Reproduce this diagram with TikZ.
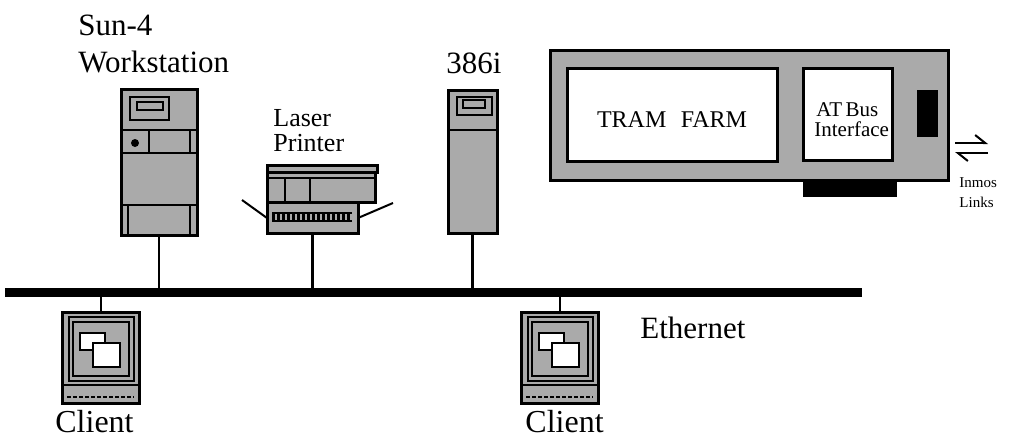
\documentclass[tikz,border=0pt]{standalone}
\usepackage{fontspec}
\setmainfont{Liberation Serif}
\usetikzlibrary{arrows.meta}
\definecolor{dither}{RGB}{170,170,170}

\tikzset{
  unit/.style={draw, line width=1.5pt, fill=dither, inner sep=0pt},
  panel/.style={draw, line width=1pt},
  drop/.style={line width=1.4pt},
  link/.style={line width=1pt, -{Straight Barb[harpoon, length=5pt, width=8pt]}},
  label/.style={inner sep=0pt, anchor=base west, font=\fontsize{15.5}{18}\selectfont},
}

\begin{document}
\begin{tikzpicture}[x=0.5pt, y=-0.5pt]
  \useasboundingbox (0,0) rectangle (1016,440);

  % ethernet backbone
  \node[fill=black, inner sep=0pt, minimum width=428.5pt, minimum height=4.5pt] (bus) at (433.5,292.5) {};
  \node[label] (ethlabel) at (640,338) {Ethernet};

  % Sun-4 workstation
  \node[label] (sunlabel) at (78,35) {Sun-4};
  \node[label] (wslabel) at (78,72) {Workstation};
  \node[unit, minimum width=38pt, minimum height=73pt] (sun) at (159,162) {};
  \draw[panel] (130,97) rectangle (169,120) (137,102) rectangle (163,110);
  \draw[panel] (121,130) -- (197,130) (149,130) -- (149,153) (190,130) -- (190,153)
    (121,153) -- (197,153) (121,205) -- (197,205) (128,205) -- (128,235) (190,205) -- (190,235);
  \fill (135,143) circle (2pt);
  \draw[drop] (sun.south) -- (sun.south |- bus.north);

  % laser printer
  \node[label, font=\fontsize{13}{15}\selectfont] (laserlabel) at (273,126) {Laser};
  \node[label, font=\fontsize{13}{15}\selectfont] (printerlabel) at (273,151) {Printer};
  \draw[panel] (242,200) -- (267,218) (358,218) -- (393,203);
  \draw[unit] (267,172) rectangle (375,202);
  \draw[unit] (267,165) rectangle (377,172);
  \draw[panel] (267,178) -- (375,178) (285,178) -- (285,202) (310,178) -- (310,202);
  \node[unit, minimum width=45.5pt, minimum height=15.5pt] (printer) at (312.5,217.5) {};
  \draw[line width=1pt] (272,213) -- (352,213) (272,221) -- (352,221);
  \draw[line width=4pt, dash pattern=on 1.5pt off 1pt] (272,217) -- (352,217);
  \draw[drop] (printer.south) -- (printer.south |- bus.north);

  % 386i
  \node[label] (pslabel) at (446,73) {386i};
  \node[unit, minimum width=24.5pt, minimum height=71.5pt] (ps) at (472.5,161.5) {};
  \draw[panel] (457,97) rectangle (492,115) (463,100) rectangle (485,108) (448,130) -- (497,130);
  \draw[drop] (ps.south) -- (ps.south |- bus.north);

  % transputer board
  \node[unit, minimum width=199pt, minimum height=65pt] (board) at (749,115) {};
  \node[unit, fill=white, minimum width=105pt, minimum height=46.5pt] (tram) at (672,114.5) {};
  \node[inner sep=0pt, anchor=base, font=\fontsize{12}{14}\selectfont] (tramlabel) at (672,127) {TRAM\hspace{0.6em}FARM};
  \node[unit, fill=white, minimum width=44.5pt, minimum height=46pt] (atbus) at (847.5,114) {};
  \node[label, font=\fontsize{10.5}{12}\selectfont] (atlabel) at (816,116) {AT\,Bus};
  \node[label, font=\fontsize{10.5}{12}\selectfont] (iflabel) at (814,136) {Interface};
  \fill (917,90) rectangle (938,137);
  \fill (803,180) rectangle (897,197);
  \coordinate (outA) at (955,143);
  \coordinate (outB) at (988,143);
  \coordinate (inA) at (988,153);
  \coordinate (inB) at (955,153);
  \draw[link] (outA) -- (outB);
  \draw[link] (inA) -- (inB);
  \node[inner sep=0pt, anchor=north west, align=left, font=\fontsize{7.5}{10}\selectfont] (links) at (959,177) {Inmos\\Links};

  % clients
  \foreach \name/\cx/\lx in {c1/101/55, c2/560/525} {
    \node[unit, minimum width=38.5pt, minimum height=45.5pt] (\name) at (\cx,357.5) {};
    \draw[panel] (\cx-32.5,317) rectangle (\cx+32.5,381);
    \draw[line width=0.7pt] (\cx-28,322) rectangle (\cx+28,376);
    \draw[panel, fill=white] (\cx-21.5,333) rectangle (\cx+3.5,350);
    \draw[panel, fill=white] (\cx-8.5,343) rectangle (\cx+18.5,367);
    \draw[panel] (\cx-38.5,385) -- (\cx+38.5,385);
    \draw[line width=1.2pt, dash pattern=on 2pt off 1pt] (\cx-34,397) -- (\cx+33,397);
    \draw[drop] (\name.north) -- (\name.north |- bus.south);
    \node[label, font=\fontsize{16}{18}\selectfont] (\name-label) at (\lx,432) {Client};
  }
\end{tikzpicture}
\end{document}
